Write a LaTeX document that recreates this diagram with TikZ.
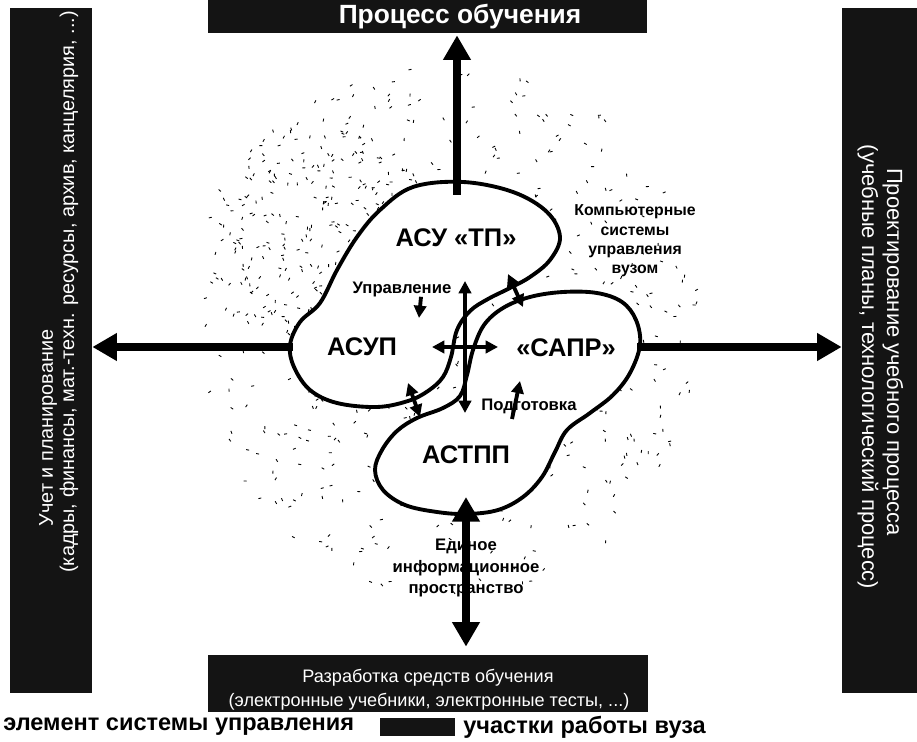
\documentclass[tikz,border=0pt]{standalone}
\usepackage{fontspec}
\setmainfont{Liberation Sans}
\usetikzlibrary{arrows.meta,positioning}

\tikzset{
  sector/.style={fill=black!92, inner sep=0pt},
  sectortext/.style={text=white, inner sep=0pt},
  blobline/.style={line width=2.2pt, line join=round, fill=white},
  system/.style={font=\bfseries\fontsize{14.5}{16}\selectfont, inner sep=1pt},
  smalllabel/.style={font=\bfseries\fontsize{9.5}{11.3}\selectfont, align=center, inner sep=0pt},
  fatarrow/.style={line width=5pt, -{Triangle[length=14pt,width=15pt]}},
  fatboth/.style={line width=5pt, {Triangle[length=14pt,width=15pt]}-{Triangle[length=14pt,width=15pt]}},
  thinarrow/.style={line width=2.2pt, -{Triangle[length=7pt,width=7pt]}},
  thinboth/.style={line width=2.2pt, {Triangle[length=7pt,width=7pt]}-{Triangle[length=7pt,width=7pt]}}
}

\begin{document}
\begin{tikzpicture}[x=0.02cm, y=-0.02cm]
    \useasboundingbox (0,0) rectangle (917,742);

    % Scan speckle around the centre
    \pgfmathsetseed{42}
    \foreach \i in {1,...,500}{
        \pgfmathsetmacro\ang{360*rnd}
        \pgfmathsetmacro\rad{sqrt(rnd)}
        \pgfmathsetmacro\dir{360*rnd}
        \draw[line width=0.5pt] ({450+250*\rad*cos(\ang)},{330+270*\rad*sin(\ang)}) -- ++(\dir:3);
    }
    \foreach \i in {1,...,220}{
        \pgfmathsetmacro\ang{360*rnd}
        \pgfmathsetmacro\rad{sqrt(rnd)}
        \pgfmathsetmacro\dir{360*rnd}
        \draw[line width=0.5pt] ({320+120*\rad*cos(\ang)},{230+110*\rad*sin(\ang)}) -- ++(\dir:3);
    }

    % Work areas (black boxes)
    \node[sector, minimum width=8.78cm, minimum height=0.66cm] (tbox) at (427.5,16.5) {};
    \node[sectortext, font=\bfseries\fontsize{15}{17}\selectfont] (ttext) at (460,17) {Процесс обучения};

    \node[sector, minimum width=1.64cm, minimum height=13.7cm] (lbox) at (51,350.5) {};
    \node[sectortext, rotate=90, font=\fontsize{11.3}{13}\selectfont] (ltext) at (48,428) {Учет и планирование};
    \node[sectortext, rotate=90, font=\fontsize{11.3}{13}\selectfont] (ltextb) at (69,292) {(кадры, финансы, мат.-техн. ресурсы, архив, канцелярия, ...)};

    \node[sector, minimum width=1.5cm, minimum height=13.7cm] (rbox) at (879.5,350.5) {};
    \node[sectortext, rotate=-90, font=\fontsize{12.5}{14}\selectfont] (rtext) at (893,352) {Проектирование учебного процесса};
    \node[sectortext, rotate=-90, font=\fontsize{12.5}{14}\selectfont] (rtextb) at (868,367) {(учебные планы, технологический процесс)};

    \node[sector, minimum width=8.8cm, minimum height=1.14cm] (bbox) at (428,683.5) {};
    \node[sectortext, font=\fontsize{10.3}{12}\selectfont] (btext) at (428,678) {Разработка средств обучения};
    \node[sectortext, font=\fontsize{10.3}{12}\selectfont] (btextb) at (429,702) {(электронные учебники, электронные тесты, ...)};

    % Subsystem outlines
    \draw[blobline] plot[smooth cycle, tension=0.6] coordinates {
        (290,345) (300,322) (320,303) (337,270) (357,237) (380,210) (413,187)
        (463,182) (513,192) (547,212) (560,237) (550,260) (530,277) (508,289)
        (488,299) (470,311) (457,330) (451,357) (443,377) (428,391) (408,401)
        (377,407) (337,403) (310,390) (294,367)};
    \draw[blobline] plot[smooth cycle, tension=0.6] coordinates {
        (640,345) (636,320) (622,302) (597,293) (563,292) (530,297) (503,308)
        (484,325) (473,350) (467,375) (460,396) (443,408) (417,418) (397,431)
        (382,450) (375,470) (383,490) (405,505) (437,512) (467,514) (498,510)
        (523,497) (542,477) (555,452) (567,430) (590,413) (613,395) (630,373)};

    % Subsystem names
    \node[system] (tp) at (456,238) {АСУ «ТП»};
    \node[system] (asup) at (362,347) {АСУП};
    \node[system] (sapr) at (566,348) {«САПР»};
    \node[system] (astpp) at (466,455) {АСТПП};

    % Links to the work areas
    \coordinate (tpup) at (457,195);
    \draw[fatarrow] (tpup) -- ([yshift=-0.04cm]tpup |- tbox.south);
    \coordinate (asupw) at (293,347);
    \draw[fatarrow] (asupw) -- (asupw -| lbox.east);
    \coordinate (sapre) at (637,347);
    \draw[fatarrow] (sapre) -- (sapre -| rbox.west);
    \coordinate (astpps) at (466,497);
    \draw[fatboth] (astpps) -- ([yshift=0.16cm]astpps |- bbox.north);

    % Arrows in the middle
    \coordinate (vup) at (465,281);
    \coordinate (vdn) at (465,413);
    \draw[thinboth] (vup) -- (vdn);
    \coordinate (hlf) at (432,347);
    \coordinate (hrt) at (498,347);
    \draw[thinboth] (hlf) -- (hrt);
    \coordinate (xa) at (508,274);
    \coordinate (xb) at (523,307);
    \draw[thinboth] (xa) -- (xb);
    \coordinate (ya) at (408,383);
    \coordinate (yb) at (420,417);
    \draw[thinboth] (ya) -- (yb);

    % Small labels
    \node[smalllabel] (upr) at (402,289) {Управление};
    \coordinate (uprtip) at (419,318);
    \draw[thinarrow] ([xshift=0.38cm]upr.south) -- (uprtip);
    \node[smalllabel] (podg) at (529,406) {Подготовка};
    \coordinate (podgtip) at (520,381);
    \coordinate (podgfoot) at (512,419);
    \draw[thinarrow] (podgfoot) -- (podgtip);
    \node[smalllabel, font=\bfseries\fontsize{9}{11}\selectfont] (ksu) at (635,241) {Компьютерные\\системы\\управления\\вузом};
    \node[smalllabel, font=\bfseries\fontsize{9.5}{12.2}\selectfont] (eip) at (466,568) {Единое\\информационное\\пространство};

    % Legend
    \node[anchor=west, inner sep=0pt, font=\bfseries\fontsize{13.4}{15}\selectfont] (legel) at (3,727) {элемент системы управления};
    \node[sector, minimum width=1.5cm, minimum height=0.36cm] (legbox) at (417.5,727) {};
    \node[anchor=west, inner sep=0pt, font=\bfseries\fontsize{13.4}{15}\selectfont] (legwork) at (463,727) {участки работы вуза};
\end{tikzpicture}
\end{document}
